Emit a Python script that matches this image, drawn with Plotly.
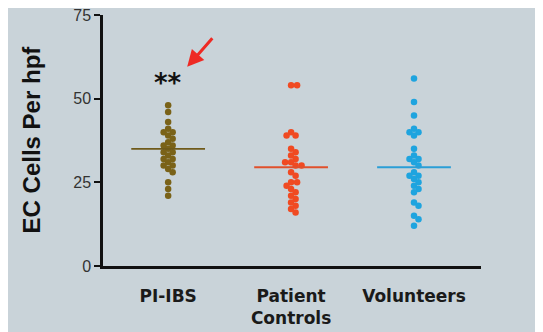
import plotly.graph_objects as go
import numpy as np

categories = ["PI-IBS", "Patient<br>Controls", "Volunteers"]
pi_ibs = [48, 46, 43, 41, 40, 40, 39, 38, 37, 36, 36, 35, 34, 34, 33, 32, 32, 31, 30, 30, 29, 28, 25, 23, 21]
patient_controls = [54, 54, 40, 39, 39, 35, 34, 33, 32, 31, 31, 30, 30, 28, 27, 25, 25, 24, 23, 22, 21, 20, 19, 18, 17, 16]
volunteers = [56, 49, 45, 41, 40, 40, 39, 35, 33, 32, 32, 31, 30, 28, 27, 27, 26, 25, 24, 23, 22, 19, 18, 15, 14, 12]
means = [35, 29.5, 29.5]
y_ticks = [0, 25, 50, 75]

groups = [pi_ibs, patient_controls, volunteers]
dot_colors = ["#7a6218", "#f04a22", "#1ea4df"]
line_colors = ["#6f5a1a", "#e0502c", "#2a9ed6"]

W, H = 543, 332
margin = dict(l=95, r=70, t=7, b=74, autoexpand=False)
xr = [-0.53, 2.545]
yr = [0, 75]
px_per_x = (W - margin["l"] - margin["r"]) / (xr[1] - xr[0])
px_per_y = (H - margin["t"] - margin["b"]) / (yr[1] - yr[0])


def swarm(values, diam=5.6):
    order = np.argsort(values)[::-1]
    placed = []
    offs = np.zeros(len(values))
    for i in order:
        yp = values[i] * px_per_y
        best = None
        for step in range(0, 200):
            for sgn in ([1, -1] if step else [1]):
                xo = sgn * step * 0.5
                ok = True
                for (px, py) in placed:
                    if (px - xo) ** 2 + (py - yp) ** 2 < diam ** 2:
                        ok = False
                        break
                if ok:
                    best = xo
                    break
            if best is not None:
                break
        placed.append((best, yp))
        offs[i] = best / px_per_x
    return offs


fig = go.Figure()
for gi, vals in enumerate(groups):
    offs = swarm(vals)
    fig.add_trace(go.Scatter(
        x=[gi + o for o in offs], y=vals, mode="markers",
        marker=dict(size=6.5, color=dot_colors[gi]), showlegend=False, hoverinfo="y"))
    fig.add_trace(go.Scatter(
        x=[gi - 0.3, gi + 0.3], y=[means[gi], means[gi]], mode="lines",
        line=dict(color=line_colors[gi], width=1.8), showlegend=False, hoverinfo="skip"))

fig.add_annotation(x=0, y=54.8, text="<b>**</b>", showarrow=False,
                   font=dict(size=26, color="#111111", family="DejaVu Sans"))
fig.add_annotation(x=0.155, y=59.5, ax=0.37, ay=68.5, axref="x", ayref="y", xref="x", yref="y",
                   text="", showarrow=True, arrowhead=2, arrowsize=1.1, arrowwidth=3,
                   arrowcolor="#ee2a24")
fig.add_annotation(xref="paper", yref="paper", x=-0.19, y=0.505, textangle=-90,
                   xanchor="center", yanchor="middle",
                   text="<b>EC Cells Per hpf</b>", showarrow=False,
                   font=dict(family="Liberation Sans, Arial", size=24, color="#111111"))

fig.update_layout(
    width=W, height=H, margin=margin,
    paper_bgcolor="#c9d3d9", plot_bgcolor="#c9d3d9",
    xaxis=dict(range=xr, tickmode="array", tickvals=[0, 1, 2], ticktext=categories,
               showgrid=False, zeroline=False, showline=True, linecolor="#111111", linewidth=2.5,
               ticks="outside", ticklen=13, tickcolor="rgba(0,0,0,0)", automargin=False,
               tickfont=dict(family="DejaVu Sans", size=17, color="#1a1a1a", weight="bold"),
               fixedrange=True),
    yaxis=dict(range=yr, tickmode="array", tickvals=y_ticks, showgrid=False, zeroline=False,
               showline=True, linecolor="#111111", linewidth=2.5, ticks="outside", ticklen=6,
               tickwidth=2, tickcolor="#111111", automargin=False, ticklabeloverflow="allow",
               tickfont=dict(family="Liberation Sans, Arial", size=16, color="#333333")),
)

fig.write_html("out.html")
